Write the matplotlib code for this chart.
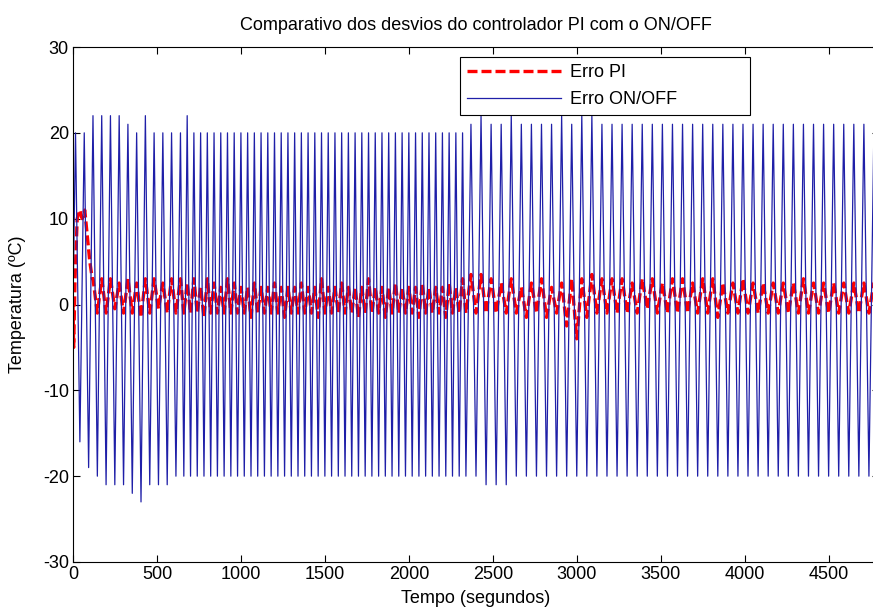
import matplotlib
matplotlib.use("Agg")
import matplotlib.pyplot as plt
import numpy as np

plt.rcParams['font.family'] = ['Liberation Sans', 'DejaVu Sans']
plt.rcParams['axes.unicode_minus'] = False

# ---- ON/OFF error: cycle peaks and troughs (seconds, degC) ----
onoff_peak_t = [15, 67, 119, 171, 223, 275, 327, 379, 431, 483, 535, 587,
                640, 680, 720, 760, 800, 840, 880, 920, 960, 1000, 1040, 1080,
                1120, 1160, 1200, 1240, 1280, 1320, 1360, 1400, 1440, 1480, 1520,
                1560, 1600, 1640, 1680, 1720, 1760, 1800, 1840, 1880, 1920, 1960,
                2000, 2040, 2080, 2120, 2160, 2200, 2240, 2280, 2320,
                2370, 2430, 2490, 2550, 2610, 2670, 2730, 2790, 2850, 2910, 2970,
                3030, 3090, 3150, 3210, 3270, 3330, 3390, 3450, 3510, 3570, 3630,
                3690, 3750, 3810, 3870, 3930, 3990, 4050, 4110, 4170, 4230, 4290,
                4350, 4410, 4470, 4530, 4590, 4650, 4710, 4770]
onoff_peak_v = [20, 20, 22, 22, 22, 22, 21, 20, 22, 20, 20, 20,
                20, 22, 20, 20, 20, 20, 20, 20, 20, 20, 20, 20,
                20, 20, 20, 20, 20, 20, 20, 20, 20, 20, 20,
                20, 20, 20, 20, 20, 20, 20, 20, 20, 20, 20,
                20, 20, 20, 20, 20, 20, 20, 20, 20,
                21, 22, 21, 21, 22, 21, 21, 21, 21, 22, 21,
                22, 22, 21, 21, 21, 21, 21, 21, 21, 21, 21,
                21, 21, 21, 21, 21, 21, 21, 21, 21, 21, 21,
                21, 21, 21, 21, 21, 21, 21, 21]
onoff_trough_t = [41, 93, 145, 197, 249, 301, 353, 405, 457, 509, 561, 613,
                  660, 700, 740, 780, 820, 860, 900, 940, 980, 1020, 1060, 1100,
                  1140, 1180, 1220, 1260, 1300, 1340, 1380, 1420, 1460, 1500, 1540,
                  1580, 1620, 1660, 1700, 1740, 1780, 1820, 1860, 1900, 1940, 1980,
                  2020, 2060, 2100, 2140, 2180, 2220, 2260, 2300, 2340,
                  2400, 2460, 2520, 2580, 2640, 2700, 2760, 2820, 2880, 2940, 3000,
                  3060, 3120, 3180, 3240, 3300, 3360, 3420, 3480, 3540, 3600, 3660,
                  3720, 3780, 3840, 3900, 3960, 4020, 4080, 4140, 4200, 4260, 4320,
                  4380, 4440, 4500, 4560, 4620, 4680, 4740, 4800]
onoff_trough_v = [-16, -19, -20, -21, -21, -21, -22, -23, -21, -21, -21, -20,
                  -20, -20, -20, -20, -20, -20, -20, -20, -20, -20, -20, -20,
                  -20, -20, -20, -20, -20, -20, -20, -20, -20, -20, -20,
                  -20, -20, -20, -20, -20, -20, -20, -20, -20, -20, -20,
                  -20, -20, -20, -20, -20, -20, -20, -20, -20,
                  -20, -21, -21, -21, -20, -20, -20, -20, -20, -20, -20,
                  -20, -20, -20, -20, -20, -20, -20, -20, -20, -20, -20,
                  -20, -20, -20, -20, -20, -20, -20, -20, -20, -20, -20,
                  -20, -20, -20, -20, -20, -20, -20, -20]

# ---- PI error: start-up transient, then highs/lows at the same cycle times ----
pi_start_t = [0, 4, 12, 25, 40, 55, 70, 85, 100, 115]
pi_start_v = [0, -5, 3, 10, 11, 10, 11, 8, 5, 3]
pi_high_v = [11, 5, 3, 3, 3, 2.5, 3, 2.5, 3, 3, 2.5, 3,
             3, 2.5, 3, 2, 3, 2.5, 2, 3, 2.5, 2, 2, 2.5,
             2, 2, 2.5, 2, 2, 2, 2.5, 2, 2, 3, 2,
             2, 2.5, 2, 2, 2, 3, 2, 2, 2, 2.5, 2,
             2, 2, 2.5, 2, 2, 2, 2.5, 2, 3,
             3.5, 3.5, 3, 2.5, 3, 2, 2.5, 3, 2, 2.5, 3,
             3, 3.5, 3, 3, 3, 2.5, 3, 3, 2.5, 3, 3,
             2.5, 3, 3, 2.5, 2.5, 3, 2.5, 2.5, 2.5, 2.5, 2.5,
             3, 2.5, 2.5, 2.5, 2.5, 2.5, 2.5, 2.5]
pi_low_v = [-1, -1, -1, -1, -0.5, -1, -1, -1.5, -1, -0.5, -1, -1,
            -1, -1, -1, -1.5, -1, -1, -1, -1, -1, -1, -1.5, -1,
            -1, -1, -1, -1.5, -1, -1, -1, -1, -1.5, -1, -1,
            -1, -1, -1, -1.5, -1, -1, -1, -1.5, -1, -1, -1,
            -1, -1.5, -1, -1, -1, -1.5, -1, -1, -1,
            -1, -1, -1, -1, -1, -1.5, -1, -1.5, -1, -2.5, -4,
            -1.5, -1, -1, -1, -1, -1, -0.5, -1, -1, -1, -1,
            -1, -1, -1.5, -1, -1, -1, -1, -1, -1, -1, -1,
            -1, -1, -1, -1, -1, -1, -1, -1]

x_ticks = [0, 500, 1000, 1500, 2000, 2500, 3000, 3500, 4000, 4500]
y_ticks = [-30, -20, -10, 0, 10, 20, 30]

# interleave peaks and troughs into one vertex sequence
onoff_t = np.concatenate([[0], np.column_stack([onoff_peak_t, onoff_trough_t]).ravel()])
onoff_v = np.concatenate([[0], np.column_stack([onoff_peak_v, onoff_trough_v]).ravel()])

cyc_t = np.column_stack([onoff_peak_t, onoff_trough_t]).ravel()
cyc_v = np.column_stack([pi_high_v, pi_low_v]).ravel()
keep = cyc_t > 118
pi_t = np.concatenate([pi_start_t, cyc_t[keep]])
pi_v = np.concatenate([pi_start_v, cyc_v[keep]])

FS = 13

fig = plt.figure(figsize=(8.73, 6.13), dpi=100)
ax = fig.add_axes([73 / 873, 51 / 613, 806 / 873, 515 / 613])

ax.plot(pi_t, pi_v, color='#ff0000', linestyle=(0, (3, 1.2)), linewidth=2.4,
        label='Erro PI')
ax.plot(onoff_t, onoff_v, color='#1f1fa8', linewidth=0.9, label='Erro ON/OFF')

ax.set_xlim(0, 4800)
ax.set_ylim(-30, 30)
ax.set_xticks(x_ticks)
ax.set_yticks(y_ticks)
ax.tick_params(direction='in', length=5, labelsize=FS, top=True, right=True, pad=3)
for s in ax.spines.values():
    s.set_linewidth(0.8)

ax.set_title('Comparativo dos desvios do controlador PI com o ON/OFF',
             fontsize=FS, pad=12)
ax.set_xlabel('Tempo (segundos)', fontsize=FS, labelpad=5)
ax.set_ylabel('Temperatura (ºC)', fontsize=FS, labelpad=12)

leg = ax.legend(loc='upper left', bbox_to_anchor=(0.480, 0.5, 0.360, 0.481),
                mode='expand', borderaxespad=0, fancybox=False, framealpha=1,
                edgecolor='black', fontsize=FS, handlelength=5.2,
                handletextpad=0.5, labelspacing=0.55, borderpad=0.4)
leg.get_frame().set_linewidth(0.8)

fig.savefig('out.png', dpi=100)
